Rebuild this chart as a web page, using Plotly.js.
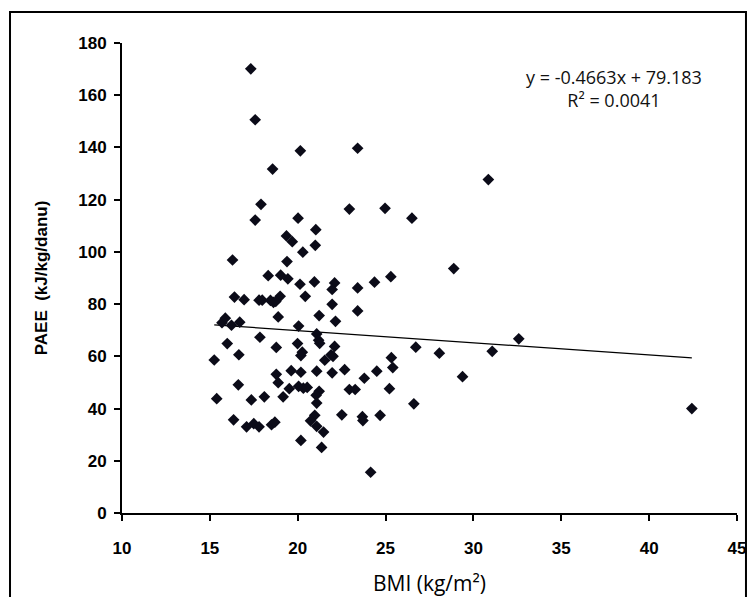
<!DOCTYPE html>
<html>
<head>
<meta charset="utf-8">
<script src="https://cdn.plot.ly/plotly-3.0.1.min.js"></script>
<style>html,body{margin:0;padding:0;background:#fff;}#chart{width:752px;height:597px;}</style>
</head>
<body>
<div id="chart"></div>
<script>
var bmi = [17.33,17.58,23.41,20.15,18.57,30.85,17.91,22.94,24.97,17.58,20.02,26.50,21.03,19.36,19.69,21.00,20.29,16.29,19.39,28.88,
  18.32,19.03,25.30,19.44,20.13,20.95,22.10,24.37,21.96,23.41,16.40,16.95,17.80,17.98,19.00,20.43,18.62,21.96,23.41,18.89,
  21.22,22.15,15.69,15.88,16.70,16.23,20.05,21.08,32.58,17.85,21.19,21.25,15.99,19.99,26.72,22.10,18.78,31.07,28.06,16.65,
  21.90,20.26,20.18,22.01,15.25,21.54,25.33,25.41,22.67,19.63,20.18,21.08,21.96,24.50,18.78,29.38,23.79,18.89,16.62,20.05,
  20.32,20.54,19.52,22.94,23.27,25.22,21.22,21.05,15.39,17.36,18.10,19.17,21.08,26.61,42.43,16.35,17.50,17.09,17.80,18.51,
  18.70,20.97,22.51,23.68,23.71,24.69,20.73,21.08,21.47,20.18,21.36,24.15,18.45,18.75];
var paee = [170.1,150.6,139.7,138.7,131.7,127.7,118.2,116.4,116.7,112.2,112.9,112.9,108.5,106.1,103.9,102.5,99.9,96.9,96.3,93.6,
  90.9,91.1,90.5,89.7,87.6,88.5,88.1,88.4,85.6,86.2,82.7,81.7,81.5,81.5,83.0,83.0,80.7,79.9,77.4,75.1,
  75.6,73.4,72.9,74.6,73.1,71.9,71.6,68.6,66.7,67.3,66.2,65.0,64.9,64.9,63.5,63.8,63.4,61.9,61.2,60.6,
  60.6,61.6,60.3,60.0,58.6,58.5,59.5,55.7,54.9,54.5,53.9,54.3,53.7,54.3,53.1,52.2,51.6,49.9,49.1,48.5,
  47.8,48.1,47.6,47.3,47.3,47.6,46.6,45.1,43.8,43.3,44.5,44.5,42.1,41.8,40.0,35.7,34.2,33.0,33.0,33.8,
  34.8,37.4,37.6,36.9,35.4,37.4,35.3,33.2,31.0,27.8,25.1,15.6,81.4,81.0];
var trendX = [15.25, 42.43];
var trendY = [72.07, 59.40];
var xTicks = [10,15,20,25,30,35,40,45];
var yTicks = [0,20,40,60,80,100,120,140,160,180];
var eqText = 'y = -0.4663x + 79.183<br>R² = 0.0041';

var dark = '#0b0b18';
var fam = '"Open Sans", Lato, sans-serif';
var boldFam = '"Liberation Sans", Arial, sans-serif';
var traces = [
  {x: trendX, y: trendY, mode: 'lines', type: 'scatter', line: {color: '#000', width: 1.2}, hoverinfo: 'skip'},
  {x: bmi, y: paee, mode: 'markers', type: 'scatter',
   marker: {symbol: 'diamond', size: 9, color: dark, line: {width: 0}}}
];
var tickFont = {family: boldFam, size: 17, color: '#000', weight: 700};
var layout = {
  width: 752, height: 597,
  margin: {l: 122, r: 15, t: 43, b: 84},
  paper_bgcolor: '#fff', plot_bgcolor: '#fff',
  showlegend: false,
  xaxis: {
    range: [10, 45], tickvals: xTicks, ticktext: xTicks.map(String),
    showgrid: false, zeroline: false, showline: true, linecolor: '#000', linewidth: 2,
    ticks: 'outside', ticklen: 6, tickwidth: 2, tickcolor: '#000',
    tickfont: tickFont, ticklabelstandoff: 13,
    title: {text: 'BMI (kg/m²)', font: {family: fam, size: 21, color: '#000'}, standoff: 19}
  },
  yaxis: {
    range: [0, 180], tickvals: yTicks, ticktext: yTicks.map(String),
    showgrid: false, zeroline: false, showline: true, linecolor: '#000', linewidth: 2,
    ticks: 'outside', ticklen: 6, tickwidth: 2, tickcolor: '#000',
    tickfont: tickFont, ticklabelstandoff: 4,
    title: {text: 'PAEE  (kJ/kg/danu)', font: {family: boldFam, size: 17, color: '#000', weight: 700}, standoff: 26}
  },
  annotations: [{
    x: 38.0, y: 162.4, xref: 'x', yref: 'y', text: eqText, showarrow: false,
    align: 'center', font: {family: fam, size: 18, color: '#111'}
  }],
  shapes: [{
    type: 'rect', xref: 'paper', yref: 'paper',
    x0: -0.1821, x1: 1.0146, y0: -0.2, y1: 1.066,
    line: {color: '#000', width: 2}, fillcolor: 'rgba(0,0,0,0)', layer: 'below'
  }]
};
Plotly.newPlot('chart', traces, layout, {displayModeBar: false, staticPlot: true});
</script>
</body>
</html>
